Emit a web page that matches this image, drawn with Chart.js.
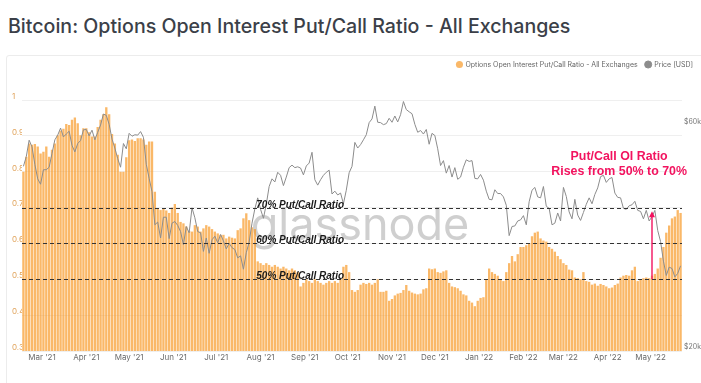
<!DOCTYPE html>
<html>
<head>
<meta charset="utf-8">
<script src="https://cdn.jsdelivr.net/npm/chart.js@4.4.1/dist/chart.umd.min.js"></script>
<style>
  body { margin: 0; width: 701px; height: 383px; overflow: hidden; position: relative; background: #fff; font-family: Inter, "Noto Sans", sans-serif; }
  #title { position: absolute; left: 8px; top: 14px; font-size: 19.6px; font-weight: 500; color: #3b3f48; white-space: nowrap; }
  #card { position: absolute; left: 6px; top: 55px; width: 720px; height: 340px; border: 1px solid #ececec; border-radius: 3px; }
  #myChart { position: absolute; left: 0; top: 0; }
</style>
</head>
<body>
<div id="title">Bitcoin: Options Open Interest Put/Call Ratio - All Exchanges</div>
<div id="card"></div>
<canvas id="myChart" width="701" height="383"></canvas>
<script>
// one value every 2 days, starting 16 Feb 2021
const startDate = Date.UTC(2021, 1, 16);
const stepDays = 2;

const putCallRatio = [
  0.80, 0.842, 0.879, 0.875, 0.877, 0.87, 0.851, 0.856, 0.87, 0.842,
  0.861, 0.879, 0.902, 0.914, 0.92, 0.933, 0.93, 0.945, 0.951, 0.935,
  0.902, 0.921, 0.921, 0.91, 0.898, 0.898, 0.925, 0.945, 0.96, 0.98,
  0.96, 0.905, 0.879, 0.847, 0.80, 0.80, 0.84, 0.888, 0.89, 0.886,
  0.893, 0.893, 0.89, 0.875, 0.884, 0.884, 0.744, 0.698, 0.693, 0.698,
  0.692, 0.685, 0.70, 0.71, 0.685, 0.66, 0.656, 0.647, 0.635,
  0.633, 0.651, 0.647, 0.633, 0.642, 0.651, 0.647, 0.64, 0.633, 0.628,
  0.624, 0.624, 0.614, 0.619, 0.616, 0.614, 0.637, 0.642, 0.67, 0.684,
  0.665, 0.645, 0.64, 0.55, 0.545, 0.54, 0.545, 0.54, 0.535, 0.54,
  0.535, 0.53, 0.535, 0.53, 0.525, 0.53, 0.525, 0.52, 0.48, 0.49,
  0.50, 0.495, 0.49, 0.50, 0.495, 0.49, 0.485, 0.49, 0.495, 0.49,
  0.495, 0.49, 0.50, 0.535, 0.54, 0.52, 0.47, 0.465,
  0.47, 0.485, 0.49, 0.487, 0.49, 0.485, 0.49, 0.50, 0.465, 0.465,
  0.468, 0.44, 0.445, 0.455, 0.46, 0.462, 0.47, 0.484, 0.468, 0.463,
  0.46, 0.458, 0.46, 0.472, 0.475, 0.53, 0.528, 0.53, 0.52, 0.518,
  0.522, 0.525, 0.49, 0.48, 0.478, 0.475, 0.468, 0.458, 0.455, 0.44,
  0.435, 0.425, 0.44, 0.448, 0.45, 0.50, 0.53, 0.52, 0.515, 0.51,
  0.50, 0.495, 0.52, 0.545, 0.565, 0.55, 0.57,
  0.59, 0.59, 0.595, 0.60, 0.62, 0.63, 0.633, 0.614, 0.608, 0.605,
  0.59, 0.585, 0.577, 0.565, 0.556, 0.545, 0.54, 0.527, 0.525, 0.505,
  0.503, 0.50, 0.52, 0.495, 0.493, 0.485, 0.488, 0.482, 0.487, 0.484,
  0.48, 0.475, 0.477, 0.484, 0.488, 0.505, 0.51, 0.512, 0.51, 0.525,
  0.535, 0.495, 0.50, 0.503, 0.505, 0.503, 0.51, 0.515, 0.53, 0.56,
  0.59, 0.63, 0.65, 0.67, 0.675, 0.693, 0.685
];

// BTC price in $k, same dates
const priceK = [
  49.2, 51.6, 55.9, 54.1, 49.7, 46.3, 45.1,
  48.4, 48.4, 49.0, 52.4, 56.0, 57.3, 59.3, 56.8, 57.6, 58.4, 54.5, 52.8, 55.0, 55.8, 58.8,
  58.9, 57.1, 58.7, 56.0, 58.1, 60.2, 63.5, 63.1, 60.4, 56.2, 53.8, 51.1, 49.0, 55.0, 53.6,
  57.8, 57.0, 57.4, 57.3, 58.3, 56.7, 49.7, 46.4, 43.5, 37.0, 37.5, 34.7, 38.4, 38.4, 34.6, 37.3,
  37.6, 36.9, 35.8, 33.6, 36.7, 35.6, 40.2, 38.3, 35.8, 35.6, 32.5, 34.7, 32.2, 34.4, 35.0,
  33.9, 35.3, 34.2, 32.9, 33.8, 33.1, 32.8, 31.5, 31.8, 29.8, 32.3, 34.0, 37.3, 40.0, 42.2,
  39.9, 38.2, 40.9, 44.6, 46.3, 45.6, 47.8, 47.1, 44.8, 46.7, 48.9, 49.5, 48.9, 49.1, 48.8, 47.2,
  49.3, 50.0, 52.7, 46.1, 44.9, 46.1, 47.1, 47.8, 48.3, 43.0, 43.6, 42.8, 43.2, 41.0, 43.8,
  47.7, 49.2, 55.3, 53.8, 54.7, 56.0, 57.4, 60.9, 62.0, 66.0, 61.0, 60.9, 60.3, 60.6, 62.2,
  61.0, 62.9, 61.1, 63.3, 67.5, 64.9, 64.2, 63.6, 60.4, 58.1, 58.6, 57.6, 58.9, 54.8, 57.8,
  57.2, 53.6, 49.4, 50.6, 47.6, 49.4, 46.7, 48.9, 46.2, 46.7, 49.0, 50.8, 50.4, 50.6, 46.4, 46.3,
  47.3, 46.0, 43.6, 41.9, 41.8, 43.9, 43.1, 43.1, 42.4, 40.7, 35.1, 36.7, 36.8, 37.7, 37.9,
  38.7, 37.0, 41.4, 43.8, 44.4, 42.4, 42.2, 44.6, 40.5, 40.1, 37.0, 37.3, 39.2, 37.7,
  44.4, 42.5, 39.4, 38.1, 41.9, 38.8, 37.8, 39.3, 40.9, 42.2, 41.0, 42.9, 44.3, 46.8, 47.1, 45.5,
  46.3, 46.6, 43.2, 42.3, 42.2, 40.1, 39.9, 40.6, 40.8, 41.5, 39.7, 39.5, 38.1, 39.7, 37.7,
  38.5, 39.7, 36.0, 34.1, 31.0, 28.9, 30.1, 29.9, 28.7, 29.2, 30.3
];

const monthLabels = ["Mar '21", "Apr '21", "May '21", "Jun '21", "Jul '21", "Aug '21", "Sep '21", "Oct '21",
  "Nov '21", "Dec '21", "Jan '22", "Feb '22", "Mar '22", "Apr '22", "May '22"];
const priceTicks = [20, 60];

const refLevels = [0.7, 0.6, 0.5];
const refLabels = ["70% Put/Call Ratio", "60% Put/Call Ratio", "50% Put/Call Ratio"];
const noteLines = ["Put/Call OI Ratio", "Rises from 50% to 70%"];

const DAY = 86400000;
const monthDays = monthLabels.map((l, k) => (Date.UTC(2021, 2 + k, 1) - startDate) / DAY);

const ratioPoints = putCallRatio.map((v, i) => ({ x: i * stepDays, y: v }));
const pricePoints = priceK.map((v, i) => ({ x: i * stepDays, y: v }));

const pink = "#f2135f";

const legendGap = {
  id: "legendGap",
  beforeInit(chart) {
    const fit = chart.legend.fit;
    chart.legend.fit = function () {
      fit.bind(chart.legend)();
      this.height = 47;
    };
  }
};

const overlays = {
  id: "overlays",
  beforeDatasetsDraw(chart) {
    const ctx = chart.ctx;
    ctx.save();
    ctx.font = "45px Inter";
    ctx.fillStyle = "rgba(160,160,160,0.5)";
    ctx.textAlign = "center";
    ctx.fillText("glassnode", 360, 226);
    ctx.restore();
  },
  afterDatasetsDraw(chart) {
    const { ctx, chartArea, scales } = chart;
    const x = scales.x, y = scales.y;
    ctx.save();

    // dashed reference levels
    ctx.strokeStyle = "#333";
    ctx.lineWidth = 1.1;
    ctx.setLineDash([4, 3]);
    ctx.font = "italic bold 10px 'Liberation Sans'";
    ctx.fillStyle = "#1a1a1a";
    refLevels.forEach((lv, k) => {
      const py = Math.round(y.getPixelForValue(lv)) + 0.5;
      ctx.beginPath();
      ctx.moveTo(chartArea.left, py);
      ctx.lineTo(chartArea.right, py);
      ctx.stroke();
      ctx.fillText(refLabels[k], x.getPixelForValue(163), py - 3.5);
    });
    ctx.setLineDash([]);

    // arrow from 50% to 70%
    const ax = x.getPixelForValue(440);
    const y0 = y.getPixelForValue(0.5);
    const y1 = y.getPixelForValue(0.69);
    ctx.strokeStyle = pink;
    ctx.fillStyle = pink;
    ctx.lineWidth = 1.4;
    ctx.beginPath();
    ctx.moveTo(ax, y0);
    ctx.lineTo(ax, y1 + 4);
    ctx.stroke();
    ctx.beginPath();
    ctx.moveTo(ax, y1);
    ctx.lineTo(ax - 3, y1 + 6);
    ctx.lineTo(ax + 3, y1 + 6);
    ctx.closePath();
    ctx.fill();

    // note text
    ctx.font = "bold 12.4px 'Liberation Sans'";
    ctx.textAlign = "center";
    const nx = x.getPixelForValue(417);
    ctx.fillText(noteLines[0], nx, 157);
    ctx.fillText(noteLines[1], nx, 171.5);
    ctx.restore();
  }
};

new Chart(document.getElementById("myChart"), {
  type: "bar",
  data: {
    datasets: [
      {
        label: "Options Open Interest Put/Call Ratio - All Exchanges",
        data: ratioPoints,
        yAxisID: "y",
        backgroundColor: "rgba(247,147,26,0.66)",
        borderWidth: 0,
        categoryPercentage: 1,
        barPercentage: 0.82,
        order: 1
      },
      {
        type: "line",
        label: "Price [USD]",
        data: pricePoints,
        yAxisID: "y1",
        borderColor: "#8c8c8c",
        backgroundColor: "#8c8c8c",
        borderWidth: 1,
        pointRadius: 0,
        tension: 0,
        order: 0
      }
    ]
  },
  options: {
    responsive: false,
    animation: false,
    layout: { padding: { left: 12, right: 0, top: 53, bottom: 0 } },
    plugins: {
      tooltip: { enabled: false },
      legend: {
        position: "top",
        align: "end",
        labels: {
          usePointStyle: true,
          pointStyle: "circle",
          boxWidth: 5,
          boxHeight: 5,
          padding: 8,
          color: "#666",
          font: { family: "Inter", size: 7 },
          sort: (a, b) => a.datasetIndex - b.datasetIndex
        }
      }
    },
    scales: {
      x: {
        type: "linear",
        min: -1,
        max: 461,
        offset: false,
        grid: { display: false, drawTicks: false, tickLength: 0 },
        border: { display: false },
        afterBuildTicks: (s) => { s.ticks = monthDays.map((d) => ({ value: d })); },
        afterFit: (s) => { s.height = 32; },
        ticks: {
          autoSkip: false,
          maxRotation: 0,
          padding: 2,
          color: "#6b6b6b",
          font: { family: "Inter", size: 8 },
          callback: (v) => monthLabels[monthDays.indexOf(v)]
        }
      },
      y: {
        position: "left",
        min: 0.3,
        max: 1,
        grid: { color: "#efefef", drawTicks: false, tickLength: 0 },
        border: { display: false },
        afterFit: (s) => { s.width = 10; },
        ticks: {
          stepSize: 0.1,
          crossAlign: "far",
          labelOffset: -3.5,
          padding: 0,
          color: "#e0a35a",
          font: { family: "Inter", size: 8 },
          callback: (v) => String(+v.toFixed(1))
        }
      },
      y1: {
        type: "logarithmic",
        position: "right",
        min: 20,
        max: 68,
        grid: { display: false, drawTicks: false, tickLength: 0 },
        border: { display: false },
        afterBuildTicks: (s) => { s.ticks = priceTicks.map((v) => ({ value: v })); },
        afterFit: (s) => { s.width = 19; },
        ticks: {
          padding: 2,
          labelOffset: -4,
          color: "#777",
          font: { family: "Inter", size: 7 },
          callback: (v) => "$" + v + "k"
        }
      }
    }
  },
  plugins: [legendGap, overlays]
});
</script>
</body>
</html>
